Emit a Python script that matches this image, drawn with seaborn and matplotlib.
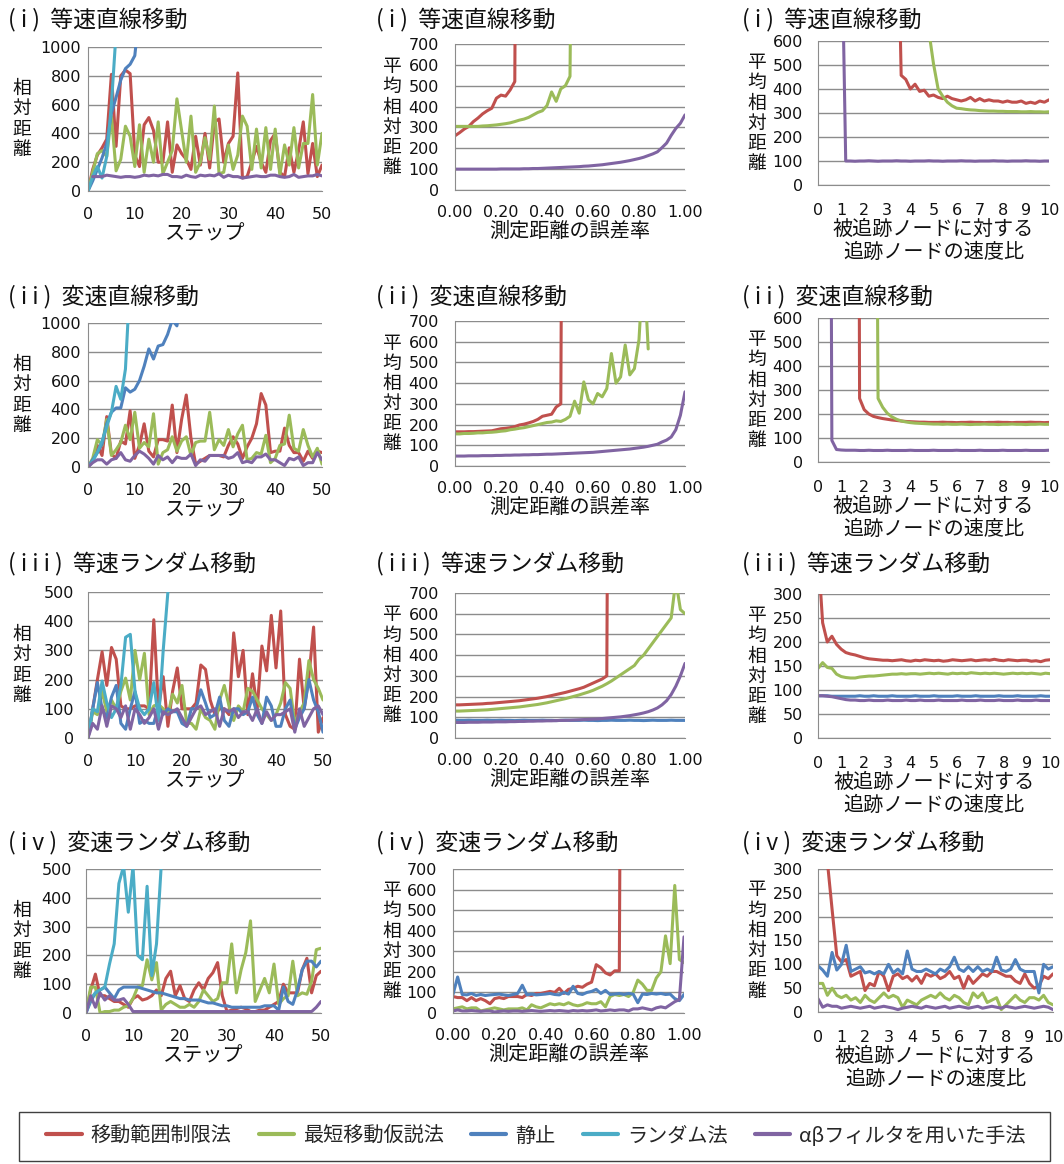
import numpy as np
import pandas as pd
import seaborn as sns
import matplotlib.pyplot as plt
from matplotlib.lines import Line2D
from matplotlib.patches import Rectangle

W, H = 1064, 1164
CJK = ['Noto Sans CJK JP', 'DejaVu Sans']

methods = ['移動範囲制限法', '最短移動仮説法', '静止', 'ランダム法', 'αβフィルタを用いた手法']
colors = ['#C0504D', '#9BBB59', '#4F81BD', '#4BACC6', '#8064A2']
RED, GRN, BLU, CYN, PUR = range(5)

titles = ['( i )  等速直線移動', '( i i )  変速直線移動', '( i i i )  等速ランダム移動', '( i v )  変速ランダム移動']
ylabels = ['相対距離', '平均相対距離', '平均相対距離']
xlabels = ['ステップ', '測定距離の誤差率', '被追跡ノードに対する\n追跡ノードの速度比']

# x grids: steps, error rate, speed ratio
steps = list(range(51))
err_rate = [round(i * 0.02, 2) for i in range(51)]
speed_ratio = [round(i * 0.2, 1) for i in range(51)]

x_ticks = [[0, 10, 20, 30, 40, 50],
           [0.0, 0.2, 0.4, 0.6, 0.8, 1.0],
           [0, 1, 2, 3, 4, 5, 6, 7, 8, 9, 10]]
x_ticklabels = [['0', '10', '20', '30', '40', '50'],
                ['0.00', '0.20', '0.40', '0.60', '0.80', '1.00'],
                ['0', '1', '2', '3', '4', '5', '6', '7', '8', '9', '10']]
y_max = [[1000, 700, 600], [1000, 700, 600], [500, 700, 300], [500, 700, 300]]
y_step = [[200, 100, 100], [200, 100, 100], [100, 100, 50], [100, 100, 50]]

# ---------------- column 1: relative distance per step ----------------
red_c1_r1 = [0, 150, 250, 300, 360, 810, 310, 800, 840, 815, 250, 170, 460, 510, 420, 200, 200, 480, 130, 320,
             260, 220, 150, 380, 180, 400, 160, 480, 500, 200, 330, 380, 820, 90, 100, 200, 310, 200, 130, 350,
             400, 130, 100, 300, 130, 280, 480, 120, 330, 100, 180]
grn_c1_r1 = [0, 130, 260, 280, 240, 520, 140, 220, 450, 380, 170, 460, 130, 360, 200, 480, 120, 200, 280, 640,
             420, 200, 520, 130, 200, 370, 220, 590, 120, 130, 320, 150, 250, 520, 450, 150, 430, 160, 440, 150,
             430, 110, 320, 180, 440, 160, 330, 330, 670, 180, 400]
blu_c1_r1 = [0, 70, 150, 230, 330, 540, 650, 770, 850, 880, 940, 1250]
cyn_c1_r1 = [0, 100, 170, 90, 240, 600, 1100]
pur_c1_r1 = [100, 100, 100, 110, 105, 100, 95, 100, 100, 95, 100, 110, 105, 110, 105, 115, 115, 100, 100, 95,
             110, 100, 95, 110, 105, 110, 105, 120, 95, 110, 100, 100, 90, 95, 100, 105, 100, 100, 110, 110,
             100, 95, 100, 115, 95, 100, 105, 105, 115, 105]

red_c1_r2 = [0, 40, 150, 80, 350, 90, 60, 180, 160, 390, 60, 150, 300, 110, 70, 190, 190, 180, 430, 100,
             330, 500, 200, 20, 40, 60, 80, 80, 80, 70, 150, 210, 160, 60, 140, 200, 300, 510, 430, 100,
             110, 110, 270, 150, 100, 100, 40, 110, 60, 110, 100]
grn_c1_r2 = [0, 60, 190, 150, 330, 80, 120, 170, 290, 190, 380, 130, 170, 140, 370, 20, 100, 120, 210, 110,
             180, 210, 80, 170, 180, 180, 380, 120, 190, 150, 260, 140, 230, 290, 50, 60, 100, 90, 220, 30,
             60, 150, 160, 360, 130, 110, 260, 150, 70, 130, 20]
blu_c1_r2 = [0, 50, 100, 160, 300, 380, 410, 410, 550, 520, 540, 600, 700, 820, 750, 840, 850, 920, 1020, 980, 1200]
cyn_c1_r2 = [0, 40, 100, 180, 280, 380, 560, 470, 680, 1300]
pur_c1_r2 = [0, 30, 50, 50, 20, 50, 60, 100, 50, 40, 80, 110, 90, 60, 20, 80, 50, 70, 30, 70,
             60, 60, 90, 10, 50, 40, 80, 80, 80, 80, 60, 70, 100, 30, 40, 30, 70, 70, 90, 50,
             50, 30, 10, 60, 50, 70, 10, 30, 30, 100, 50]

red_c1_r3 = [0, 100, 200, 295, 180, 310, 270, 110, 100, 100, 110, 110, 110, 100, 405, 100, 210, 40, 160, 240,
             100, 100, 100, 120, 250, 235, 130, 80, 100, 100, 80, 360, 210, 300, 80, 220, 100, 315, 230, 420,
             240, 435, 80, 40, 30, 270, 100, 210, 380, 20, 70]
grn_c1_r3 = [0, 90, 80, 160, 90, 130, 100, 160, 205, 130, 300, 200, 290, 80, 110, 115, 100, 80, 150, 120,
             180, 50, 50, 30, 100, 70, 60, 30, 130, 180, 110, 60, 110, 90, 170, 160, 130, 100, 80, 60,
             80, 120, 190, 170, 50, 90, 120, 265, 200, 170, 130]
blu_c1_r3 = [0, 100, 190, 100, 70, 140, 180, 50, 30, 100, 160, 50, 60, 50, 50, 110, 80, 100, 90, 90,
             50, 40, 100, 100, 165, 120, 70, 80, 140, 60, 40, 100, 100, 80, 90, 140, 80, 50, 140, 110,
             40, 40, 100, 130, 30, 70, 100, 200, 130, 90, 20]
cyn_c1_r3 = [0, 100, 90, 195, 120, 70, 100, 180, 345, 355, 160, 100, 80, 100, 190, 60, 300, 500, 700]
pur_c1_r3 = [0, 50, 30, 110, 40, 110, 100, 70, 110, 30, 100, 80, 50, 70, 100, 30, 90, 80, 90, 100,
             70, 40, 70, 100, 110, 80, 90, 100, 40, 100, 90, 100, 70, 90, 90, 60, 100, 50, 90, 60,
             80, 80, 90, 100, 20, 100, 40, 70, 100, 110, 80]

red_c1_r4 = [0, 80, 135, 60, 60, 50, 40, 40, 30, 20, 50, 60, 45, 50, 60, 80, 60, 120, 145, 60,
             95, 50, 40, 80, 105, 80, 120, 140, 175, 60, 5, 10, 15, 20, 15, 5, 5, 10, 10, 20,
             30, 40, 100, 70, 70, 70, 150, 190, 70, 130, 145]
grn_c1_r4 = [0, 90, 90, 0, 5, 5, 10, 10, 20, 25, 50, 90, 95, 185, 115, 175, 10, 30, 40, 30,
             20, 20, 30, 20, 40, 80, 60, 40, 50, 105, 105, 240, 70, 150, 210, 320, 40, 80, 120, 70,
             170, 30, 50, 60, 180, 60, 70, 65, 110, 220, 225]
blu_c1_r4 = [0, 40, 70, 80, 90, 70, 50, 80, 90, 90, 90, 90, 85, 80, 75, 70, 70, 65, 60, 55,
             50, 50, 45, 45, 45, 40, 35, 35, 30, 25, 25, 20, 20, 20, 20, 20, 20, 20, 25, 25,
             25, 10, 90, 40, 30, 80, 150, 180, 180, 160, 180]
cyn_c1_r4 = [0, 50, 70, 80, 90, 170, 240, 450, 510, 350, 510, 200, 185, 440, 130, 240, 510, 700]
pur_c1_r4 = [0, 60, 20, 70, 45, 60, 45, 45, 50, 30, 5, 5, 5, 5, 5, 5, 5, 5, 5, 5,
             5, 5, 5, 5, 5, 5, 5, 5, 5, 5, 5, 5, 5, 5, 5, 5, 5, 5, 5, 5,
             5, 5, 5, 5, 5, 5, 5, 5, 5, 20, 40]

# ---------------- column 2: mean relative distance vs. error rate ----------------
red_c2_r1 = [260, 275, 292, 305, 328, 345, 365, 380, 392, 440, 455, 450, 480, 520, 5000]
grn_c2_r1 = [305, 305, 305, 305, 305, 305, 307, 308, 310, 312, 315, 318, 322, 328, 335, 340, 348, 360, 372, 380,
             405, 470, 425, 485, 500, 545, 3000]
pur_c2_r1 = [100, 100, 100, 100, 100, 100, 100, 100, 100, 100, 101, 101, 101, 101, 101, 102, 102, 103, 103, 104,
             105, 106, 107, 108, 109, 110, 111, 112, 114, 115, 117, 119, 121, 124, 127, 130, 133, 137, 141, 146,
             151, 157, 165, 173, 183, 203, 225, 262, 295, 320, 360]

red_c2_r2 = [165, 165, 165, 166, 166, 167, 168, 169, 170, 175, 180, 182, 185, 190, 198, 202, 208, 215, 225, 240,
             245, 250, 285, 300, 5000]
grn_c2_r2 = [155, 155, 157, 157, 158, 160, 160, 162, 163, 165, 168, 170, 175, 178, 182, 185, 190, 195, 200, 205,
             210, 212, 218, 215, 225, 240, 313, 255, 406, 320, 300, 350, 334, 374, 543, 400, 430, 584, 440, 470,
             610, 1000, 565]
pur_c2_r2 = [48, 48, 48, 49, 49, 49, 50, 50, 50, 51, 51, 52, 52, 53, 53, 54, 54, 55, 55, 56,
             57, 57, 58, 59, 60, 61, 62, 63, 64, 65, 66, 68, 70, 72, 74, 76, 78, 80, 82, 85,
             88, 91, 95, 100, 105, 116, 125, 140, 175, 245, 358]

red_c2_r3 = [160, 160, 161, 162, 163, 164, 165, 167, 168, 170, 172, 174, 176, 178, 180, 183, 186, 189, 192, 196,
             200, 205, 210, 215, 220, 226, 232, 238, 245, 255, 265, 275, 285, 300, 5000]
grn_c2_r3 = [130, 130, 131, 132, 133, 134, 135, 136, 138, 140, 142, 144, 146, 148, 150, 153, 156, 159, 162, 166,
             170, 175, 180, 185, 190, 196, 202, 208, 215, 222, 230, 240, 250, 262, 275, 290, 305, 320, 335, 350,
             380, 400, 430, 460, 490, 520, 550, 580, 760, 620, 600]
blu_c2_r3 = [86, 85, 85, 86, 85, 85, 85, 86, 85, 85, 86, 85, 85, 84, 85, 86, 85, 85, 85, 86,
             85, 85, 84, 85, 86, 85, 85, 85, 86, 85, 85, 84, 85, 85, 86, 85, 85, 85, 86, 85,
             85, 84, 85, 86, 85, 85, 85, 86, 85, 85, 85]
pur_c2_r3 = [75, 75, 75, 76, 76, 76, 77, 77, 77, 78, 78, 78, 79, 79, 80, 80, 81, 81, 82, 82,
             83, 83, 84, 85, 85, 86, 87, 88, 89, 90, 91, 92, 94, 96, 98, 100, 102, 105, 108, 112,
             116, 121, 127, 135, 145, 160, 180, 210, 250, 300, 360]

red_c2_r4 = [80, 75, 75, 60, 75, 60, 70, 60, 45, 70, 75, 70, 80, 80, 80, 75, 90, 85, 95, 95,
             100, 105, 100, 120, 95, 115, 120, 130, 125, 140, 150, 235, 220, 195, 185, 205, 205, 5000]
grn_c2_r4 = [20, 25, 30, 20, 25, 25, 10, 15, 20, 25, 20, 15, 20, 20, 20, 25, 15, 40, 30, 25,
             35, 45, 40, 45, 40, 50, 40, 35, 40, 50, 45, 45, 55, 30, 80, 90, 85, 90, 80, 100,
             160, 140, 110, 110, 170, 200, 375, 240, 620, 260, 245]
blu_c2_r4 = [90, 175, 90, 88, 95, 85, 90, 85, 88, 90, 92, 88, 85, 90, 95, 135, 88, 92, 88, 90,
             92, 95, 90, 88, 100, 92, 130, 95, 90, 100, 105, 115, 95, 110, 90, 92, 95, 90, 95, 92,
             50, 92, 90, 95, 92, 95, 90, 92, 70, 60, 90]
pur_c2_r4 = [10, 15, 10, 10, 12, 10, 8, 10, 10, 5, 8, 10, 8, 10, 10, 8, 10, 12, 10, 8,
             10, 12, 10, 12, 10, 8, 12, 10, 12, 10, 12, 15, 10, 12, 15, 12, 15, 15, 10, 20,
             20, 25, 20, 15, 25, 30, 25, 40, 55, 65, 370]

# ---------------- column 3: mean relative distance vs. speed ratio ----------------
red_c3_r1 = [1410, 457, 440, 400, 420, 390, 395, 370, 375, 365, 360, 370, 360, 355, 350, 355, 365, 350, 360, 350,
             355, 350, 350, 345, 350, 345, 345, 350, 340, 345, 340, 350, 345, 355]
grn_c3_r1 = [640, 505, 400, 370, 345, 330, 320, 318, 315, 313, 312, 310, 309, 308, 308, 307, 307, 306, 306, 306,
             305, 305, 306, 305, 305, 304, 305]
pur_c3_r1 = [1200, 100, 100, 99, 100, 100, 101, 100, 99, 100, 100, 100, 101, 100, 100, 99, 100, 100, 100, 101,
             100, 100, 99, 100, 100, 100, 101, 100, 100, 99, 100, 100, 100, 101, 100, 100, 99, 100, 100, 100,
             101, 100, 100, 99, 100, 100]

red_c3_r2 = [7000, 265, 218, 200, 190, 185, 181, 178, 175, 173, 171, 169, 168, 167, 166, 166, 165, 165, 165, 166,
             165, 165, 164, 165, 165, 166, 165, 165, 164, 165, 165, 166, 165, 165, 164, 165, 165, 165, 166, 165,
             165, 164, 165]
grn_c3_r2 = [3615, 265, 228, 203, 188, 178, 171, 167, 164, 162, 161, 160, 159, 158, 158, 157, 158, 157, 157, 158,
             157, 156, 157, 157, 158, 157, 157, 156, 157, 157, 158, 157, 157, 156, 157, 157, 158, 157, 157]
pur_c3_r2 = [5280, 90, 52, 50, 49, 49, 49, 48, 48, 49, 48, 48, 48, 49, 48, 48, 48, 48, 49, 48,
             48, 48, 48, 49, 48, 48, 48, 48, 49, 48, 48, 48, 48, 49, 48, 48, 48, 48, 49, 48,
             48, 48, 48, 49, 48, 48, 48, 48, 49]

red_c3_r3 = [390, 240, 200, 212, 195, 185, 178, 175, 173, 170, 167, 165, 164, 163, 162, 162, 161, 162, 163, 161,
             160, 162, 161, 163, 162, 161, 162, 160, 161, 163, 162, 161, 162, 163, 161, 162, 163, 162, 164, 162,
             161, 163, 162, 161, 162, 162, 160, 161, 159, 162, 163]
grn_c3_r3 = [145, 157, 147, 145, 133, 128, 126, 125, 125, 127, 128, 129, 129, 130, 131, 132, 133, 133, 134, 133,
             134, 134, 133, 134, 135, 134, 135, 134, 133, 135, 134, 135, 134, 136, 135, 134, 135, 134, 135, 134,
             133, 134, 135, 134, 135, 134, 135, 134, 133, 135, 134]
blu_c3_r3 = [88, 88, 88, 87, 87, 87, 87, 87, 87, 88, 87, 87, 88, 87, 87, 87, 88, 87, 87, 87,
             87, 88, 87, 87, 87, 88, 87, 87, 87, 87, 88, 87, 87, 87, 88, 87, 87, 87, 87, 88,
             87, 87, 87, 88, 87, 87, 87, 87, 88, 87, 87]
pur_c3_r3 = [88, 88, 87, 86, 84, 82, 80, 79, 79, 78, 78, 79, 78, 78, 78, 79, 78, 78, 78, 79,
             78, 78, 79, 78, 78, 78, 79, 78, 78, 78, 78, 79, 78, 78, 78, 79, 78, 78, 78, 79,
             78, 78, 78, 79, 78, 78, 78, 79, 78, 78, 78]

red_c3_r4 = [315, 215, 118, 105, 110, 75, 80, 85, 45, 60, 55, 85, 75, 45, 75, 80, 70, 75, 65, 75,
             60, 80, 75, 80, 70, 75, 85, 70, 75, 50, 75, 60, 70, 80, 75, 85, 85, 80, 75, 75,
             65, 60, 80, 60, 50, 55, 75, 70, 80]
grn_c3_r4 = [60, 60, 35, 50, 35, 30, 35, 25, 30, 20, 35, 25, 20, 30, 40, 30, 35, 30, 10, 25,
             20, 15, 25, 30, 35, 30, 40, 30, 25, 35, 30, 20, 15, 40, 30, 40, 20, 25, 30, 5,
             15, 25, 35, 25, 20, 30, 30, 25, 35, 20, 15]
blu_c3_r4 = [97, 88, 75, 125, 88, 100, 140, 85, 90, 95, 82, 85, 80, 85, 80, 100, 82, 90, 80, 128,
             90, 85, 85, 90, 85, 80, 90, 85, 95, 115, 90, 85, 95, 85, 95, 85, 90, 85, 115, 88,
             85, 90, 110, 90, 85, 85, 85, 40, 100, 90, 95]
pur_c3_r4 = [28, 10, 15, 12, 12, 8, 10, 12, 10, 8, 10, 12, 8, 10, 12, 10, 8, 5, 8, 10,
             12, 10, 8, 12, 10, 8, 10, 12, 8, 10, 12, 10, 8, 10, 12, 8, 10, 12, 10, 8,
             12, 10, 8, 10, 12, 10, 8, 10, 12, 10, 5]

# (method, first grid index, values) for each panel
panels = [
    [
        [(RED, 0, red_c1_r1), (GRN, 0, grn_c1_r1), (BLU, 0, blu_c1_r1), (CYN, 0, cyn_c1_r1), (PUR, 1, pur_c1_r1)],
        [(RED, 0, red_c2_r1), (GRN, 0, grn_c2_r1), (PUR, 0, pur_c2_r1)],
        [(RED, 17, red_c3_r1), (GRN, 24, grn_c3_r1), (PUR, 5, pur_c3_r1)],
    ],
    [
        [(RED, 0, red_c1_r2), (GRN, 0, grn_c1_r2), (BLU, 0, blu_c1_r2), (CYN, 0, cyn_c1_r2), (PUR, 0, pur_c1_r2)],
        [(RED, 0, red_c2_r2), (GRN, 0, grn_c2_r2), (PUR, 0, pur_c2_r2)],
        [(RED, 8, red_c3_r2), (GRN, 12, grn_c3_r2), (PUR, 2, pur_c3_r2)],
    ],
    [
        [(RED, 0, red_c1_r3), (GRN, 0, grn_c1_r3), (BLU, 0, blu_c1_r3), (CYN, 0, cyn_c1_r3), (PUR, 0, pur_c1_r3)],
        [(RED, 0, red_c2_r3), (GRN, 0, grn_c2_r3), (BLU, 0, blu_c2_r3), (PUR, 0, pur_c2_r3)],
        [(RED, 0, red_c3_r3), (GRN, 0, grn_c3_r3), (BLU, 0, blu_c3_r3), (PUR, 0, pur_c3_r3)],
    ],
    [
        [(RED, 0, red_c1_r4), (GRN, 0, grn_c1_r4), (BLU, 0, blu_c1_r4), (CYN, 0, cyn_c1_r4), (PUR, 0, pur_c1_r4)],
        [(RED, 0, red_c2_r4), (GRN, 0, grn_c2_r4), (BLU, 0, blu_c2_r4), (PUR, 0, pur_c2_r4)],
        [(RED, 2, red_c3_r4), (GRN, 0, grn_c3_r4), (BLU, 0, blu_c3_r4), (PUR, 0, pur_c3_r4)],
    ],
]
grids = [steps, err_rate, speed_ratio]

# layout in pixels: (left, top, right, bottom) of each plot area
rects = [
    [(88, 47, 322, 191), (455, 44, 685, 190), (818, 41, 1049, 185)],
    [(88, 323, 322, 467), (455, 321, 685, 466), (818, 318, 1049, 462)],
    [(88, 592, 323, 738), (455, 593, 685, 738), (818, 594, 1050, 738)],
    [(86, 869, 321, 1013), (453, 869, 684, 1013), (818, 869, 1053, 1012)],
]
title_x = [8, 376, 742]
title_y = [19, 296, 564, 843]
ylab_x = [22, 392, 757]
xpad = [7.5, 6.8, 9]
ypad = [[1, 7.5, 6.8], [1, 7.5, 6.8], [6, 7.5, 6.8], [6, 7.5, 6.8]]

sns.set_style('white')
plt.rcParams['font.family'] = ['DejaVu Sans', 'Noto Sans CJK JP']
GRID = '#8c8c8c'
TXT = '#111111'

fig = plt.figure(figsize=(W / 100, H / 100), dpi=100)


def draw_panel(ax, grid, series):
    rows = []
    for m, start, vals in series:
        xs = grid[start:start + len(vals)]
        for xv, yv in zip(xs, vals):
            rows.append((methods[m], xv, yv))
    df = pd.DataFrame(rows, columns=['method', 'x', 'y'])
    order = [methods[m] for m, _, _ in series]
    pal = {methods[m]: colors[m] for m, _, _ in series}
    sns.lineplot(data=df, x='x', y='y', hue='method', hue_order=order, palette=pal,
                 estimator=None, sort=False, legend=False, linewidth=2.2, ax=ax)


for r in range(4):
    for c in range(3):
        x0, y0, x1, y1 = rects[r][c]
        ax = fig.add_axes([x0 / W, 1 - y1 / H, (x1 - x0) / W, (y1 - y0) / H])
        draw_panel(ax, grids[c], panels[r][c])
        ax.set_xlim(x_ticks[c][0], x_ticks[c][-1])
        ax.set_ylim(0, y_max[r][c])
        ax.set_xticks(x_ticks[c])
        ax.set_xticklabels(x_ticklabels[c])
        ax.set_yticks(np.arange(0, y_max[r][c] + 1, y_step[r][c]))
        ax.yaxis.grid(True, color=GRID, lw=1)
        ax.set_axisbelow(True)
        for s in ['top', 'right']:
            ax.spines[s].set_visible(False)
        for s in ['left', 'bottom']:
            ax.spines[s].set_color(GRID)
        ax.tick_params(axis='both', direction='out', length=4, color=GRID, width=1,
                       labelsize=11.5, labelcolor=TXT)
        ax.tick_params(axis='x', pad=xpad[c])
        ax.tick_params(axis='y', pad=ypad[r][c])
        ax.set_ylabel('')
        ax.set_xlabel(xlabels[c], fontsize=14.5, family=CJK, labelpad=1,
                      linespacing=1.1, color=TXT)

        fig.text(title_x[c] / W, 1 - title_y[r] / H, titles[r], fontsize=16.5, family=CJK,
                 ha='left', va='center', color=TXT)
        fig.text(ylab_x[c] / W, 1 - (y0 + y1) / 2 / H, '\n'.join(ylabels[c]), fontsize=13.5,
                 family=CJK, ha='center', va='center', linespacing=0.95, color=TXT)

# legend box
fig.patches.append(Rectangle((19 / W, 1 - 1161 / H), (1050 - 19) / W, (1161 - 1112) / H,
                             transform=fig.transFigure, fill=False, edgecolor='#404040', lw=1))
handles = [Line2D([0], [0], color=col, lw=3) for col in colors]
fig.legend(handles, methods, loc='center', bbox_to_anchor=(536 / W, 1 - 1136 / H), ncol=5,
           frameon=False, prop={'family': CJK, 'size': 14.5}, handlelength=1.75,
           handletextpad=0.45, columnspacing=1.35)

fig.savefig('out.png', dpi=100)
